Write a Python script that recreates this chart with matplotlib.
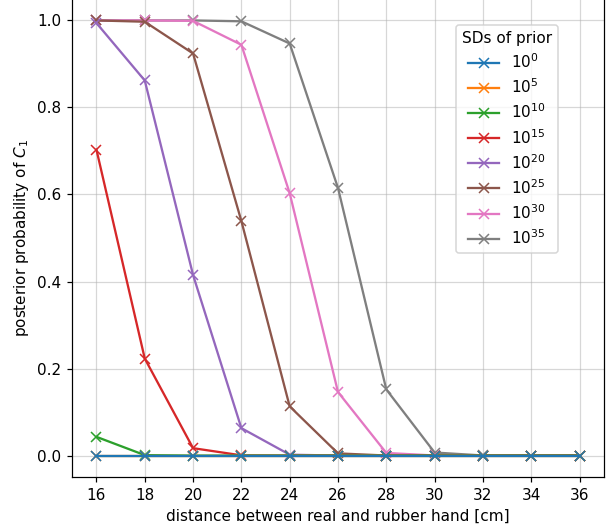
import numpy as np
import matplotlib.pyplot as plt

# distances [cm]
distances = [16, 18, 20, 22, 24, 26, 28, 30, 32, 34, 36]

# prior SD exponents and posterior probability of C1 for each
sd_exponents = [0, 5, 10, 15, 20, 25, 30, 35]
p_sd0 = [0.0, 0.0, 0.0, 0.0, 0.0, 0.0, 0.0, 0.0, 0.0, 0.0, 0.0]
p_sd5 = [0.0, 0.0, 0.0, 0.0, 0.0, 0.0, 0.0, 0.0, 0.0, 0.0, 0.0]
p_sd10 = [0.043, 0.001, 0.0, 0.0, 0.0, 0.0, 0.0, 0.0, 0.0, 0.0, 0.0]
p_sd15 = [0.703, 0.223, 0.017, 0.0005, 0.0, 0.0, 0.0, 0.0, 0.0, 0.0, 0.0]
p_sd20 = [0.994, 0.862, 0.415, 0.063, 0.002, 0.0, 0.0, 0.0, 0.0, 0.0, 0.0]
p_sd25 = [1.0, 0.997, 0.924, 0.539, 0.113, 0.005, 0.0001, 0.0, 0.0, 0.0, 0.0]
p_sd30 = [1.0, 1.0, 0.999, 0.944, 0.603, 0.146, 0.006, 0.0002, 0.0, 0.0, 0.0]
p_sd35 = [1.0, 1.0, 1.0, 0.998, 0.947, 0.615, 0.152, 0.007, 0.0002, 0.0, 0.0]
series = [p_sd0, p_sd5, p_sd10, p_sd15, p_sd20, p_sd25, p_sd30, p_sd35]

colors = plt.rcParams['axes.prop_cycle'].by_key()['color']

dpi = 110
fig = plt.figure(figsize=(608 / dpi, 531 / dpi), dpi=dpi)
ax = fig.add_axes([0.1189, 0.1011, 0.8740, 0.9014])

handles = [None] * len(series)
# draw in reverse so the 10^0 line sits on top
for i in reversed(range(len(series))):
    h, = ax.plot(distances, series[i], marker='x', color=colors[i],
                 label=r'$10^{%d}$' % sd_exponents[i])
    handles[i] = h

ax.set_xticks(distances)
ax.set_xlim(15, 37)
ax.set_ylim(-0.05, 1.05)
ax.grid(alpha=0.5)
ax.set_xlabel('distance between real and rubber hand [cm]')
ax.set_ylabel('posterior probability of $C_1$')
ax.legend(handles=handles, title='SDs of prior', loc='upper left',
          bbox_to_anchor=(0.7215, 0.945), borderaxespad=0,
          labelspacing=0.42)

fig.savefig('out.png', dpi=dpi)
